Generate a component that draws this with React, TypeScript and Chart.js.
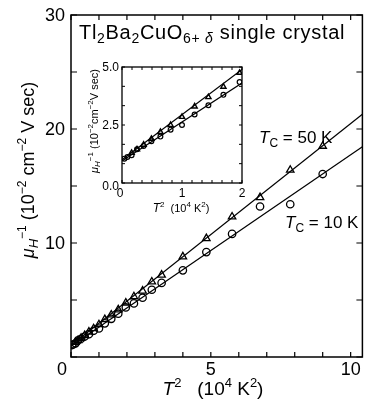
import React, { useEffect, useRef } from 'react';
import { Chart, registerables } from 'chart.js';
Chart.register(...registerables);

const FONT = '"Liberation Sans", Arial, Helvetica, sans-serif';

// ---- data (T^2 in 10^4 K^2, inverse Hall mobility in 10^-2 cm^-2 V sec) ----
const T50_X = [0.16, 0.25, 0.36, 0.49, 0.64, 0.81, 1.0, 1.21, 1.44, 1.69, 1.96, 2.25, 2.56, 2.89, 3.24, 4.0, 4.84, 5.76, 6.76, 7.84, 9.0];
const T50_Y = [1.3, 1.45, 1.65, 1.9, 2.2, 2.5, 2.85, 3.3, 3.7, 4.15, 4.75, 5.3, 5.8, 6.6, 7.2, 8.8, 10.4, 12.3, 14.0, 16.4, 18.5];
const T10_X = [0.04, 0.09, 0.16, 0.25, 0.36, 0.49, 0.64, 0.81, 1.0, 1.21, 1.44, 1.69, 1.96, 2.25, 2.56, 2.89, 3.24, 4.0, 4.84, 5.76, 6.76, 7.84, 9.0];
const T10_Y = [1.05, 1.12, 1.2, 1.45, 1.6, 1.8, 2.0, 2.3, 2.5, 2.95, 3.35, 3.8, 4.35, 4.7, 5.2, 5.9, 6.5, 7.6, 9.2, 10.8, 13.2, 13.4, 16.05];
const FIT50_X = [0, 10.42];
const FIT50_Y = [1.0, 21.3];
const FIT10_X = [0, 10.42];
const FIT10_Y = [0.95, 18.45];

const MAIN_X_TICKS = [0, 5, 10];
const MAIN_Y_TICKS = [10, 20, 30];
const INSET_X_TICKS = [0, 1, 2];
const INSET_Y_TICKS = [0, 2.5, 5];

type Seg = { t: string; size: number; dy?: number; italic?: boolean };

function drawRich(ctx: CanvasRenderingContext2D, segs: Seg[], x: number, y: number, align: 'left' | 'center' | 'right', rotate = false, spacing = 0) {
  ctx.save();
  ctx.translate(x, y);
  if (rotate) ctx.rotate(-Math.PI / 2);
  (ctx as any).letterSpacing = `${spacing}px`;
  const fontOf = (s: Seg) => `${s.italic ? 'italic ' : ''}${s.size}px ${FONT}`;
  let total = 0;
  const widths = segs.map((s) => {
    ctx.font = fontOf(s);
    const w = ctx.measureText(s.t).width;
    total += w;
    return w;
  });
  let cx = align === 'left' ? 0 : align === 'center' ? -total / 2 : -total;
  ctx.textAlign = 'left';
  ctx.textBaseline = 'alphabetic';
  ctx.fillStyle = '#000';
  segs.forEach((s, i) => {
    ctx.font = fontOf(s);
    ctx.fillText(s.t, cx, s.dy || 0);
    cx += widths[i];
  });
  ctx.restore();
}

function pts(xs: number[], ys: number[]) {
  return xs.map((x, i) => ({ x, y: ys[i] }));
}

function makeDatasets(inset: boolean) {
  const r = inset ? 2.4 : 3.7;
  return [
    { data: pts(FIT50_X, FIT50_Y), showLine: true, borderColor: '#000', borderWidth: 1.2, pointRadius: 0, order: 3 },
    { data: pts(FIT10_X, FIT10_Y), showLine: true, borderColor: '#000', borderWidth: 1.2, pointRadius: 0, order: 3 },
    { data: pts(T50_X, T50_Y), showLine: false, pointStyle: 'triangle', pointRadius: r + 0.6, borderColor: '#000', backgroundColor: 'rgba(255,255,255,0)', pointBorderWidth: inset ? 1.4 : 1.3, order: 1 },
    { data: pts(T10_X, T10_Y), showLine: false, pointStyle: 'circle', pointRadius: r, borderColor: '#000', backgroundColor: 'rgba(255,255,255,0)', pointBorderWidth: inset ? 1.2 : 1.3, order: 2 },
  ];
}

const mainDeco = {
  id: 'mainDeco',
  afterDraw(chart: any) {
    const ctx: CanvasRenderingContext2D = chart.ctx;
    const { left, right, top, bottom } = chart.chartArea;
    const xs = chart.scales.x;
    const ys = chart.scales.y;
    ctx.save();
    ctx.strokeStyle = '#000';
    ctx.lineWidth = 1.5;
    ctx.strokeRect(left, top, right - left, bottom - top);
    ctx.lineWidth = 1.2;
    ctx.beginPath();
    for (let v = 0; v <= 10; v++) {
      const px = xs.getPixelForValue(v);
      ctx.moveTo(px, bottom); ctx.lineTo(px, bottom - 5);
      ctx.moveTo(px, top); ctx.lineTo(px, top + 5);
    }
    for (let v = 0; v <= 30; v += 5) {
      const py = ys.getPixelForValue(v);
      ctx.moveTo(left, py); ctx.lineTo(left + 6, py);
      ctx.moveTo(right, py); ctx.lineTo(right - 6, py);
    }
    ctx.stroke();
    ctx.fillStyle = '#000';
    ctx.font = `18px ${FONT}`;
    ctx.textAlign = 'center';
    ctx.textBaseline = 'alphabetic';
    MAIN_X_TICKS.forEach((v) => {
      const px = xs.getPixelForValue(v) + (v === 0 ? -9 : 0);
      ctx.fillText(String(v), px, bottom + 18);
    });
    ctx.textAlign = 'right';
    ctx.textBaseline = 'middle';
    MAIN_Y_TICKS.forEach((v) => {
      ctx.fillText(String(v), left - 6, ys.getPixelForValue(v) + 1);
    });
    // axis titles
    drawRich(ctx, [
      { t: 'T', size: 19, italic: true },
      { t: '2', size: 13, dy: -8 },
      { t: '   (10', size: 19 },
      { t: '4', size: 13, dy: -8 },
      { t: ' K', size: 19 },
      { t: '2', size: 13, dy: -8 },
      { t: ')', size: 19 },
    ], 213, 395, 'center');
    drawRich(ctx, [
      { t: 'μ', size: 18, italic: true },
      { t: 'H', size: 13, italic: true, dy: 4 },
      { t: '−1', size: 12, dy: -8 },
      { t: ' (10', size: 18 },
      { t: '−2', size: 12, dy: -8 },
      { t: ' cm', size: 18 },
      { t: '−2', size: 12, dy: -8 },
      { t: ' V sec)', size: 18 },
    ], 34, 170, 'center', true);
    // title
    drawRich(ctx, [
      { t: 'Tl', size: 20 },
      { t: '2', size: 14, dy: 4 },
      { t: 'Ba', size: 20 },
      { t: '2', size: 14, dy: 4 },
      { t: 'CuO', size: 20 },
      { t: '6+ ', size: 14, dy: 4 },
      { t: 'δ', size: 14, dy: 4, italic: true },
      { t: ' single crystal', size: 20 },
    ], 79, 39, 'left', false, 0.7);
    // Tc labels
    drawRich(ctx, [
      { t: 'T', size: 17, italic: true },
      { t: 'C', size: 12, dy: 4 },
      { t: ' = 50 K', size: 17 },
    ], 259, 143, 'left');
    drawRich(ctx, [
      { t: 'T', size: 17, italic: true },
      { t: 'C', size: 12, dy: 4 },
      { t: ' = 10 K', size: 17 },
    ], 285, 228, 'left');
    ctx.restore();
  },
};

const insetDeco = {
  id: 'insetDeco',
  afterDraw(chart: any) {
    const ctx: CanvasRenderingContext2D = chart.ctx;
    const { left, right, top, bottom } = chart.chartArea;
    const xs = chart.scales.x;
    const ys = chart.scales.y;
    ctx.save();
    ctx.strokeStyle = '#000';
    ctx.lineWidth = 1.3;
    ctx.strokeRect(left, top, right - left, bottom - top);
    ctx.lineWidth = 1;
    ctx.beginPath();
    for (let i = 0; i <= 12; i++) {
      const px = xs.getPixelForValue(i / 6);
      ctx.moveTo(px, bottom); ctx.lineTo(px, bottom - 3);
      ctx.moveTo(px, top); ctx.lineTo(px, top + 3);
    }
    for (let i = 0; i <= 6; i++) {
      const py = ys.getPixelForValue((i * 5) / 6);
      ctx.moveTo(left, py); ctx.lineTo(left + 3, py);
      ctx.moveTo(right, py); ctx.lineTo(right - 3, py);
    }
    ctx.stroke();
    ctx.fillStyle = '#000';
    ctx.font = `12px ${FONT}`;
    ctx.textAlign = 'center';
    ctx.textBaseline = 'alphabetic';
    INSET_X_TICKS.forEach((v) => {
      ctx.fillText(String(v), xs.getPixelForValue(v) + (v === 0 ? -2 : 0), bottom + 14);
    });
    ctx.textAlign = 'right';
    ctx.textBaseline = 'middle';
    INSET_Y_TICKS.forEach((v) => {
      ctx.fillText(v.toFixed(1), left - 3, ys.getPixelForValue(v) + (v === 0 ? 4 : 1));
    });
    drawRich(ctx, [
      { t: 'T', size: 12, italic: true },
      { t: '2', size: 8, dy: -5 },
      { t: '  (10', size: 11 },
      { t: '4', size: 8, dy: -5 },
      { t: ' K', size: 11 },
      { t: '2', size: 8, dy: -5 },
      { t: ')', size: 11 },
    ], 101, 162, 'center');
    drawRich(ctx, [
      { t: 'μ', size: 11, italic: true },
      { t: 'H', size: 8, italic: true, dy: 2 },
      { t: '−1', size: 8, dy: -5 },
      { t: ' (10', size: 11 },
      { t: '−2', size: 8, dy: -5 },
      { t: 'cm', size: 11 },
      { t: '−2', size: 8, dy: -5 },
      { t: 'V sec)', size: 11 },
    ], 18, 71, 'center', true);
    ctx.restore();
  },
};

export default function App() {
  const mainRef = useRef<HTMLCanvasElement>(null);
  const insetRef = useRef<HTMLCanvasElement>(null);

  useEffect(() => {
    const main = new Chart(mainRef.current!, {
      type: 'scatter',
      data: { datasets: makeDatasets(false) as any },
      options: {
        responsive: false,
        animation: false,
        devicePixelRatio: 1,
        layout: { padding: { left: 71, right: 1, top: 15, bottom: 58 } },
        plugins: { legend: { display: false }, tooltip: { enabled: false } },
        scales: {
          x: { type: 'linear', min: 0, max: 10.42, display: false },
          y: { type: 'linear', min: 0, max: 30, display: false },
        },
      },
      plugins: [mainDeco],
    });
    const inset = new Chart(insetRef.current!, {
      type: 'scatter',
      data: { datasets: makeDatasets(true) as any },
      options: {
        responsive: false,
        animation: false,
        devicePixelRatio: 1,
        layout: { padding: { left: 42, right: 18, top: 17, bottom: 37 } },
        plugins: { legend: { display: false }, tooltip: { enabled: false } },
        scales: {
          x: { type: 'linear', min: 0, max: 2, display: false },
          y: { type: 'linear', min: 0, max: 5, display: false },
        },
      },
      plugins: [insetDeco],
    });
    return () => {
      main.destroy();
      inset.destroy();
    };
  }, []);

  return (
    <div style={{ position: 'absolute', left: 0, top: 0, width: 368, height: 415, background: '#fff' }}>
      <canvas ref={mainRef} width={368} height={415} style={{ position: 'absolute', left: 0, top: 0, width: 368, height: 415 }} />
      <canvas ref={insetRef} width={180} height={170} style={{ position: 'absolute', left: 80, top: 50, width: 180, height: 170 }} />
    </div>
  );
}
